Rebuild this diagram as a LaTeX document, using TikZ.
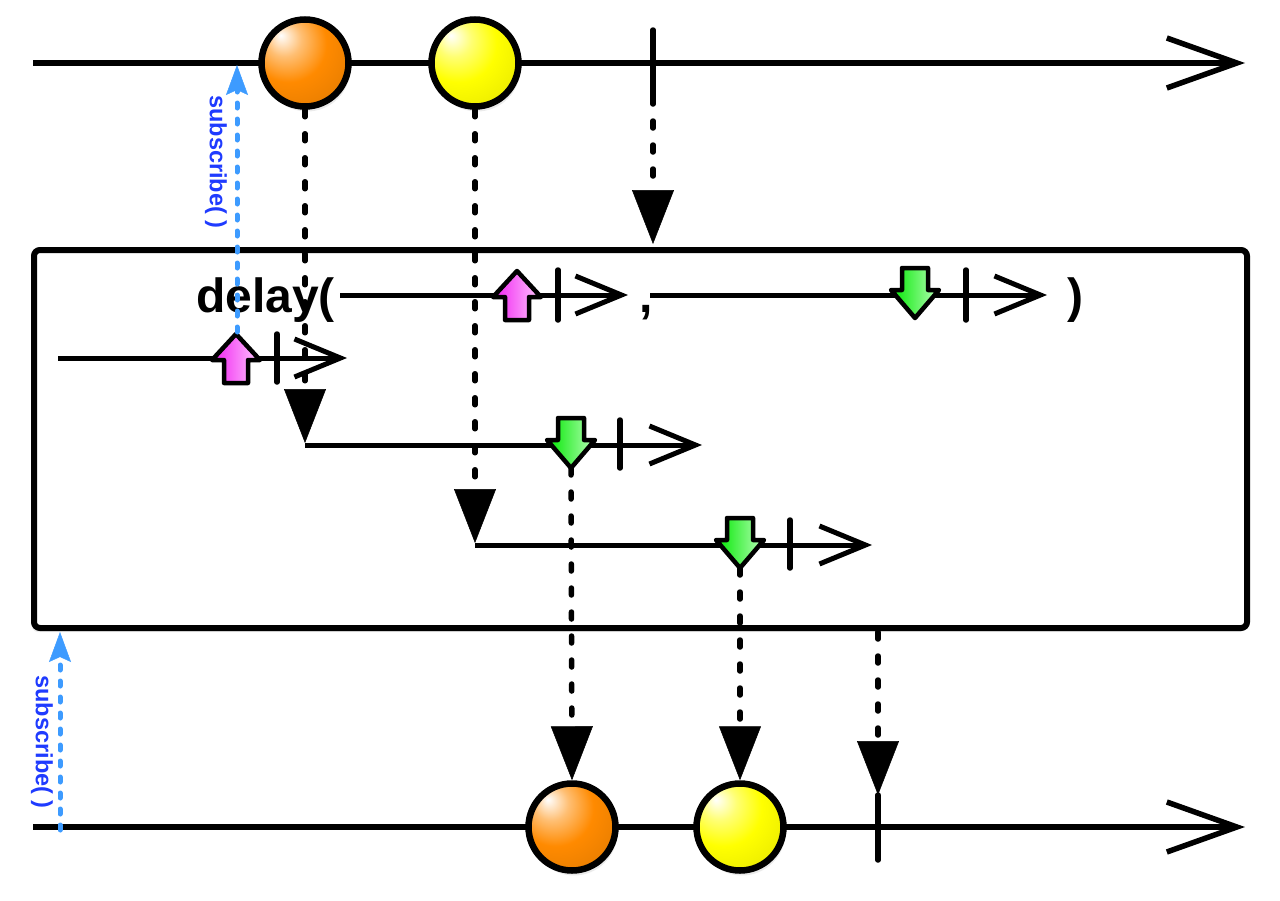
\documentclass[tikz,border=0pt]{standalone}
\usepackage{fontspec}
\setmainfont{Liberation Sans}
\usetikzlibrary{arrows.meta,shadows}
\definecolor{subblue}{HTML}{1F3BFF}
\definecolor{subarrow}{HTML}{3D9BFF}
\definecolor{ballorange}{HTML}{FF8A00}
\definecolor{ballyellow}{HTML}{FFFF00}
\definecolor{pinkA}{HTML}{F020F0}
\definecolor{pinkB}{HTML}{FFC8FF}
\definecolor{greenA}{HTML}{00E800}
\definecolor{greenB}{HTML}{B8FFB8}
\pgfdeclareradialshading{orangemarble}{\pgfpoint{-14bp}{16bp}}{%
  color(0bp)=(white); color(10bp)=(ballorange!55!white); color(22bp)=(ballorange);
  color(42bp)=(ballorange!88!black); color(56bp)=(ballorange!62!black); color(70bp)=(ballorange!45!black)}
\pgfdeclareradialshading{yellowmarble}{\pgfpoint{-14bp}{16bp}}{%
  color(0bp)=(white); color(10bp)=(ballyellow!55!white); color(22bp)=(ballyellow);
  color(42bp)=(ballyellow!90!black); color(56bp)=(ballyellow!65!black); color(70bp)=(ballyellow!45!black)}
\begin{document}
\begin{tikzpicture}[x=1pt,y=-1pt,
  timeline/.style={line width=5.5pt,-{Straight Barb[length=70pt,width=50pt]}},
  minor/.style={line width=5pt,-{Straight Barb[length=46pt,width=38pt]}},
  tickmark/.style={line width=5.5pt,line cap=round},
  marble/.style={circle,draw,line width=6.5pt,minimum size=87pt,inner sep=0pt,
    drop shadow={shadow xshift=2pt,shadow yshift=-5pt,opacity=0.16}},
  dotconn/.style={line width=5.5pt,line cap=round,dash pattern=on 7pt off 17pt,
    -{Triangle[length=54pt,width=42pt,line width=0.5pt]}},
  subconn/.style={color=subarrow,line width=5pt,line cap=round,dash pattern=on 5pt off 11pt,
    -{Stealth[length=30pt,width=22pt,inset=5pt,line width=0.5pt]}},
  sublabel/.style={text=subblue,font=\bfseries\fontsize{23.5}{23.5}\selectfont,inner sep=0pt,rotate=-90},
  bigtext/.style={font=\bfseries\fontsize{48}{48}\selectfont,inner sep=0pt},
  opbox/.style={draw,line width=6pt,rounded corners=6pt,fill=white,minimum width=1213pt,minimum height=378pt,
    drop shadow={shadow xshift=-2pt,shadow yshift=-4pt,opacity=0.15}},
  pics/pinkup/.style={code={
    \draw[line width=4.5pt,line join=round,left color=pinkA,right color=pinkB]
      (0,-24) -- (24,2) -- (12,2) -- (12,25) -- (-12,25) -- (-12,2) -- (-24,2) -- cycle;
    \coordinate (-top) at (0,-24);}},
  pics/greendown/.style={code={
    \draw[line width=4.5pt,line join=round,left color=greenA,right color=greenB]
      (0,23) -- (24,-5) -- (13,-5) -- (13,-27) -- (-13,-27) -- (-13,-5) -- (-24,-5) -- cycle;
    \coordinate (-tip) at (0,23);}}
]
\useasboundingbox (0,0) rectangle (1280,900);

% operator box
\node[opbox] (box) at (640.5,439) {};

% timelines
\coordinate (t1s) at (33,63);
\coordinate (t1e) at (1245,63);
\coordinate (t2s) at (33,827);
\coordinate (t2e) at (1245,827);
\draw[timeline] (t1s) -- (t1e);
\draw[timeline] (t2s) -- (t2e);
\coordinate (k1) at (653,97);
\draw[tickmark] (653,30) -- (k1);
\coordinate (k2) at (878,795);
\draw[tickmark] (k2) -- (878,860);

% text
\node[bigtext,anchor=base west] (dl) at (196,312) {delay(};
\node[bigtext,anchor=base] (cm) at (646,312) {,};
\node[bigtext,anchor=base] (pr) at (1075,312) {)};

% inner sequences
\coordinate (i1s) at (340,295); \coordinate (i1e) at (628,295);
\draw[minor] (i1s) -- (i1e);
\draw[tickmark] (558,270) -- (558,320);
\pic (p1) at (517,295) {pinkup};

\coordinate (i2s) at (650,295); \coordinate (i2e) at (1047,295);
\draw[minor] (i2s) -- (i2e);
\draw[tickmark] (966,270) -- (966,320);
\pic (g0) at (915,295) {greendown};

\coordinate (i3s) at (58,358); \coordinate (i3e) at (347,358);
\draw[minor] (i3s) -- (i3e);
\draw[tickmark] (277,334) -- (277,382);
\pic (p2) at (236,358) {pinkup};

\coordinate (i4s) at (305,445); \coordinate (i4e) at (702,445);
\draw[minor] (i4s) -- (i4e);
\draw[tickmark] (620,420) -- (620,468);
\pic (g1) at (571,445) {greendown};

\coordinate (i5s) at (475,545); \coordinate (i5e) at (872,545);
\draw[minor] (i5s) -- (i5e);
\draw[tickmark] (790,520) -- (790,568);
\pic (g2) at (740,545) {greendown};

% marbles
\node[marble,shading=orangemarble] (m1) at (305,63) {};
\node[marble,shading=yellowmarble] (m2) at (475,63) {};
\node[marble,shading=orangemarble] (b1) at (572,827) {};
\node[marble,shading=yellowmarble] (b2) at (740,827) {};

% dotted connectors
\coordinate (a1) at (305,443);
\coordinate (a2) at (475,543);
\coordinate (a3) at (653,244);
\coordinate (bx) at (878,632);
\draw[dotconn] (m1.south) -- (a1);
\draw[dotconn] (m2.south) -- (a2);
\draw[dotconn] (k1) -- (a3);
\draw[dotconn] (g1-tip) -- (b1.north);
\draw[dotconn] (g2-tip) -- (b2.north);
\draw[dotconn] (bx) -- (k2);

% subscribe arrows
\coordinate (s1a) at (237,332);
\coordinate (s1b) at (237,65);
\coordinate (s2a) at (60,830);
\coordinate (s2b) at (60,632);
\draw[subconn] (s1a) -- (s1b);
\draw[subconn] (s2a) -- (s2b);
\node[sublabel] (l1) at (216,162) {subscribe( )};
\node[sublabel] (l2) at (42,742) {subscribe( )};
\end{tikzpicture}
\end{document}
